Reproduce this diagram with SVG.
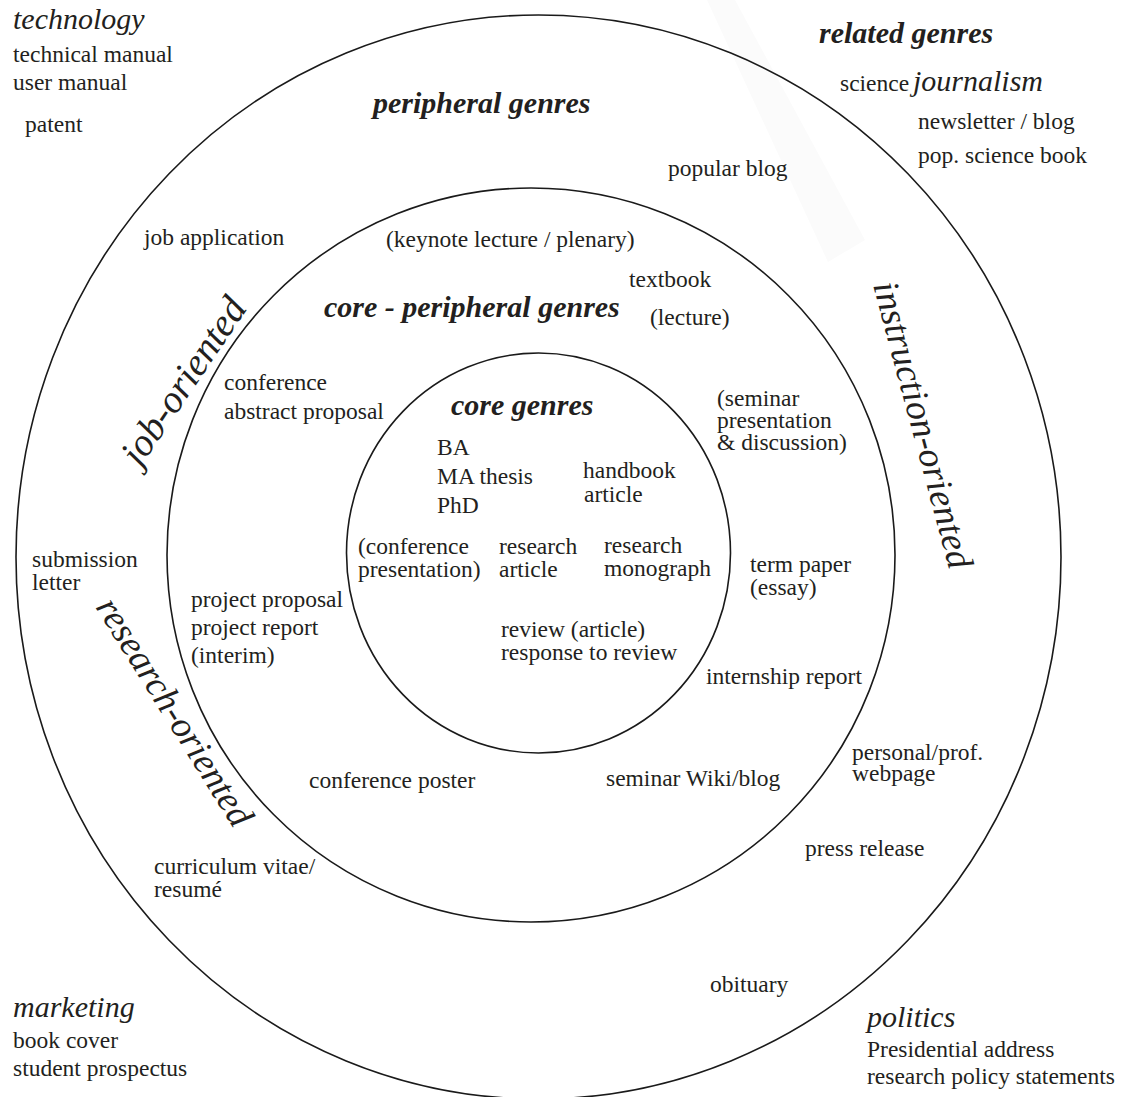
<svg xmlns="http://www.w3.org/2000/svg" width="1123" height="1097" viewBox="0 0 1123 1097">
<style>
text{font-family:"Liberation Serif","Times New Roman",serif;fill:#231f20;font-size:23.5px}
.cat{font-style:italic;font-size:30px}
.head{font-style:italic;font-weight:bold;font-size:30px}
.rot{font-style:italic;font-size:37px}
.ring{fill:none;stroke:#1a1a1a;stroke-width:1.6}
</style>
<rect width="1123" height="1097" fill="#ffffff"/>
<polygon points="707,0 735,0 865,240 828,262" fill="#fbfbfb"/>
<g id="rings">
<ellipse class="ring" cx="538.5" cy="557" rx="522.5" ry="542"/>
<ellipse class="ring" cx="531" cy="555" rx="364" ry="367"/>
<ellipse class="ring" cx="538.5" cy="553" rx="192" ry="200"/>
</g>
<g id="connectors"/>
<g id="technology"><text class="cat" x="13" y="29">technology</text><text x="13" y="62">technical manual</text><text x="13" y="90">user manual</text><text x="25" y="132">patent</text></g>
<g id="related"><text class="head" x="819" y="43">related genres</text><text x="840" y="91">science</text><text class="cat" x="913" y="91">journalism</text><text x="918" y="129">newsletter / blog</text><text x="918" y="163">pop. science book</text></g>
<g id="peripheral"><text class="head" x="373" y="113">peripheral genres</text></g>
<g id="popular-blog"><text x="668" y="176">popular blog</text></g>
<g id="job-application"><text x="144" y="245">job application</text></g>
<g id="keynote"><text x="386" y="247">(keynote lecture / plenary)</text></g>
<g id="textbook"><text x="629" y="287">textbook</text></g>
<g id="lecture"><text x="650" y="325">(lecture)</text></g>
<g id="core-peripheral"><text class="head" x="324" y="317">core - peripheral genres</text></g>
<g id="conference-abstract"><text x="224" y="390">conference</text><text x="224" y="419">abstract proposal</text></g>
<g id="core"><text class="head" x="451" y="415">core genres</text></g>
<g id="seminar"><text x="717" y="406">(seminar</text><text x="717" y="428">presentation</text><text x="717" y="450">&amp; discussion)</text></g>
<g id="theses"><text x="437" y="455">BA</text><text x="437" y="484">MA thesis</text><text x="437" y="513">PhD</text></g>
<g id="handbook"><text x="583" y="478">handbook</text><text x="584" y="502">article</text></g>
<g id="conf-presentation"><text x="358" y="554">(conference</text><text x="358" y="577">presentation)</text></g>
<g id="research-article"><text x="499" y="554">research</text><text x="499" y="577">article</text></g>
<g id="monograph"><text x="604" y="553">research</text><text x="604" y="576">monograph</text></g>
<g id="review"><text x="501" y="637">review (article)</text><text x="501" y="660">response to review</text></g>
<g id="term-paper"><text x="750" y="572">term paper</text><text x="750" y="595">(essay)</text></g>
<g id="submission"><text x="32" y="567">submission</text><text x="32" y="590">letter</text></g>
<g id="project"><text x="191" y="607">project proposal</text><text x="191" y="635">project report</text><text x="191" y="663">(interim)</text></g>
<g id="internship"><text x="706" y="684">internship report</text></g>
<g id="webpage"><text x="852" y="760">personal/prof.</text><text x="852" y="781">webpage</text></g>
<g id="poster"><text x="309" y="788">conference poster</text></g>
<g id="wiki"><text x="606" y="786">seminar Wiki/blog</text></g>
<g id="press"><text x="805" y="856">press release</text></g>
<g id="cv"><text x="154" y="874">curriculum vitae/</text><text x="154" y="897">resumé</text></g>
<g id="obituary"><text x="710" y="992">obituary</text></g>
<g id="marketing"><text class="cat" x="13" y="1017">marketing</text><text x="13" y="1048">book cover</text><text x="13" y="1076">student prospectus</text></g>
<g id="politics"><text class="cat" x="867" y="1027">politics</text><text x="867" y="1057">Presidential address</text><text x="867" y="1084">research policy statements</text></g>
<g id="job-oriented"><text class="rot" style="font-size:39px" transform="translate(140,468) rotate(-56)">job-oriented</text></g>
<g id="research-oriented"><text class="rot" transform="translate(95,607) rotate(58)">research-oriented</text></g>
<g id="instruction-oriented"><text class="rot" transform="translate(873,285) rotate(75)">instruction-oriented</text></g>
</svg>
